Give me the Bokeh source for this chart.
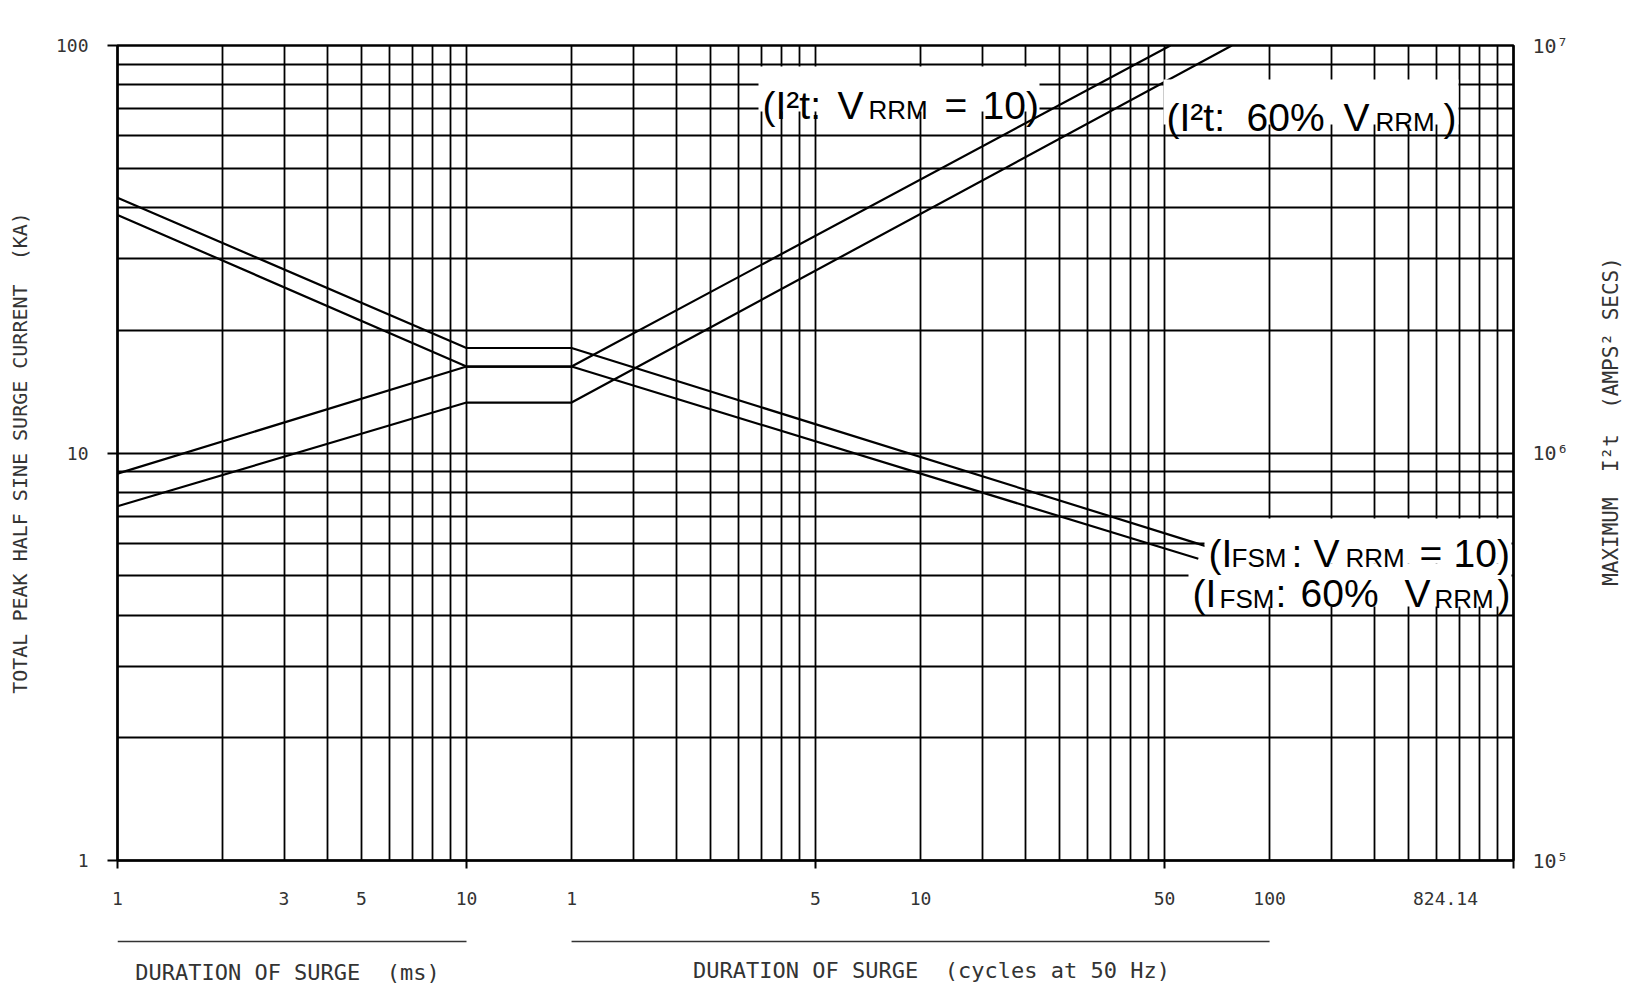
import math
from bokeh.plotting import figure
from bokeh.layouts import row, column
from bokeh.models import Range1d, LogAxis, LogScale, FixedTicker, Label, BoxAnnotation
from bokeh.embed import file_html
from bokeh.resources import INLINE

# ---------------- data ----------------
# duration of surge in ms (1 cycle at 50 Hz = 20 ms)
t_ifsm_10 = [1, 10, 20, 1320]
ifsm_10 = [42.3, 18.1, 18.1, 5.9]          # kA, V_RRM = 10
t_ifsm_60 = [1, 10, 20, 1250]
ifsm_60 = [38.4, 16.3, 16.3, 5.5]          # kA, 60% V_RRM
t_i2t_10 = [1, 10, 20, 1040]
i2t_10 = [8.9e5, 1.63e6, 1.63e6, 1.0e7]    # A^2 s, V_RRM = 10
t_i2t_60 = [1, 10, 20, 1560]
i2t_60 = [7.4e5, 1.33e6, 1.33e6, 1.0e7]    # A^2 s, 60% V_RRM

ms_ticks = [1, 3, 5, 10]
cycle_ticks = [1, 5, 10, 50, 100]
ms_per_cycle = 20
decade_ticks_ms = [1, 10, 100, 1000, 10000]
kA_ticks = [1, 10, 100]
i2t_ticks = [100000, 1000000, 10000000]
i2t_tick_labels = ["10\u2075", "10\u2076", "10\u2077"]
note_text = "824.14"

NB = "\u00a0"
left_title = "TOTAL PEAK HALF SINE SURGE CURRENT" + NB * 2 + "(KA)"
right_title = "MAXIMUM" + NB * 2 + "I\u00b2t" + NB * 2 + "(AMPS\u00b2 SECS)"
ms_title = "DURATION OF SURGE" + NB * 2 + "(ms)"
cyc_title = "DURATION OF SURGE" + NB * 2 + "(cycles at 50 Hz)"

# ---------------- layout ----------------
BL, BR, BT, BB = 117, 75, 45, 60
FW, FH = 1396, 815
MW, MH = BL + FW + BR, BT + FH + BB        # main figure
BOT_H = 65                                 # strip below with the duration titles
SIDE_W = 39                                # strip on the right with the I2t title
TOTAL_H = MH + BOT_H
X0, X1, Y0, Y1 = 1, 10000, 1, 100
DX = FW / math.log10(X1 / X0)
DY = FH / math.log10(Y1 / Y0)
MONO = "DejaVu Sans Mono"
SANS = "Liberation Sans"
GREY = "#333333"


def to_data(px, py):
    return X0 * 10 ** ((px - BL) / DX), Y0 * 10 ** ((BT + FH - py) / DY)


p = figure(width=MW, height=MH, x_axis_type="log", y_axis_type="log",
           x_range=Range1d(X0, X1), y_range=Range1d(Y0, Y1),
           output_backend="svg", toolbar_location=None,
           min_border_left=BL, min_border_right=BR, min_border_top=BT, min_border_bottom=BB)
p.background_fill_color = "white"
p.border_fill_color = "white"
p.outline_line_color = "black"
p.outline_line_width = 2.5

p.extra_y_ranges = {"i2t": Range1d(1e5, 1e7)}
p.extra_y_scales = {"i2t": LogScale()}

# grid (log paper)
grid_ms = [m * 10 ** e for e in range(4) for m in range(1, 10)] + [10000]
grid_kA = [m * 10 ** e for e in range(2) for m in range(1, 10)] + [100]
p.xgrid.ticker = FixedTicker(ticks=grid_ms)
p.ygrid.ticker = FixedTicker(ticks=grid_kA)
for g in (p.xgrid, p.ygrid):
    g.grid_line_color = "black"
    g.grid_line_width = 1.8
    g.grid_line_alpha = 1.0

# bottom axis
xa = p.xaxis[0]
note_ms = to_data(1445, 0)[0]
xt = ms_ticks + [c * ms_per_cycle for c in cycle_ticks] + [note_ms]
xl = [str(v) for v in ms_ticks] + [str(c) for c in cycle_ticks] + [note_text]
xa.ticker = FixedTicker(ticks=xt, minor_ticks=decade_ticks_ms)
xa.major_label_overrides = {t: l for t, l in zip(xt, xl)}
xa.major_tick_out = 0
xa.major_tick_in = 0
xa.minor_tick_out = 8
xa.minor_tick_in = 0
xa.minor_tick_line_color = "black"
xa.minor_tick_line_width = 2
xa.major_label_standoff = 23

# left axis
ya = p.yaxis[0]
ya.ticker = FixedTicker(ticks=kA_ticks)
ya.major_label_overrides = {t: str(t) for t in kA_ticks}
ya.major_tick_out = 10
ya.major_tick_in = 0
ya.minor_tick_out = 0
ya.minor_tick_in = 0
ya.major_tick_line_color = "black"
ya.major_tick_line_width = 2
ya.major_label_standoff = 19
ya.axis_label = left_title
ya.axis_label_standoff = 21
ya.axis_label_text_font = MONO
ya.axis_label_text_font_size = "20px"
ya.axis_label_text_font_style = "normal"
ya.axis_label_text_color = GREY

# right axis
ra = LogAxis(y_range_name="i2t", ticker=FixedTicker(ticks=i2t_ticks))
ra.major_label_overrides = {t: l for t, l in zip(i2t_ticks, i2t_tick_labels)}
ra.major_tick_out = 0
ra.major_tick_in = 0
ra.minor_tick_out = 0
ra.minor_tick_in = 0
ra.major_label_standoff = 19
p.add_layout(ra, "right")

for ax in (xa, ya, ra):
    ax.axis_line_color = "black"
    ax.axis_line_width = 2
    ax.major_label_text_font = MONO
    ax.major_label_text_font_size = "18px"
    ax.major_label_text_color = GREY
ra.major_label_text_font_size = "20px"

# curves
LW = 2.2
p.line(t_ifsm_10, ifsm_10, line_color="black", line_width=LW)
p.line(t_ifsm_60, ifsm_60, line_color="black", line_width=LW)
p.line(t_i2t_10, i2t_10, line_color="black", line_width=LW, y_range_name="i2t")
p.line(t_i2t_60, i2t_60, line_color="black", line_width=LW, y_range_name="i2t")


def lbl(fig, x, y, text, size, font=SANS, align="left", baseline="alphabetic",
        angle=0.0, color="black"):
    fig.add_layout(Label(x=x, y=y, text=text, text_font=font, text_font_size=f"{size}px",
                         text_align=align, text_baseline=baseline, angle=angle,
                         text_color=color))


# curve labels: white box + text pieces (subscripts as smaller, lowered pieces)
MAIN, SUB = 39, 26
curve_labels = [
    ((758, 66, 1039, 111), [("(I\u00b2t:", 762, 105, MAIN), ("V", 837, 105, MAIN),
                            ("RRM", 868, 109, SUB), ("=", 944, 105, MAIN), ("10)", 982, 105, MAIN)]),
    ((1163, 79, 1458, 124), [("(I\u00b2t:", 1166, 117, MAIN), ("60%", 1246, 117, MAIN),
                             ("V", 1343, 117, MAIN), ("RRM", 1375, 121, SUB), (")", 1443, 117, MAIN)]),
    ((1204, 518, 1511, 563), [("(I", 1208, 553, MAIN), ("FSM", 1231, 557, SUB), (":", 1291, 553, MAIN),
                              ("V", 1313, 553, MAIN), ("RRM", 1345, 557, SUB), ("=", 1419, 553, MAIN),
                              ("10)", 1453, 553, MAIN)]),
    ((1188, 563, 1511, 606), [("(I", 1192, 593, MAIN), ("FSM", 1219, 598, SUB), (":", 1275, 593, MAIN),
                              ("60%", 1300, 593, MAIN), ("V", 1404, 593, MAIN), ("RRM", 1434, 598, SUB),
                              (")", 1497, 593, MAIN)]),
]
for (bx0, by0, bx1, by1), pieces in curve_labels:
    l, t = to_data(bx0, by0)
    r, b = to_data(bx1, by1)
    p.add_layout(BoxAnnotation(left=l, right=r, bottom=b, top=t, fill_color="white",
                               fill_alpha=1.0, line_color=None))
for _, pieces in curve_labels:
    for text, px, py, size in pieces:
        x, y = to_data(px, py)
        lbl(p, x, y, text, size)

# ---------------- strip below: duration titles with rules ----------------
pb = figure(width=MW, height=BOT_H, x_axis_type="log", x_range=p.x_range,
            y_range=Range1d(TOTAL_H, MH), output_backend="svg", toolbar_location=None,
            x_axis_location=None, y_axis_location=None,
            min_border_left=BL, min_border_right=BR, min_border_top=0, min_border_bottom=0)
pb.grid.visible = False
pb.outline_line_color = None
pb.background_fill_color = "white"
pb.border_fill_color = "white"
RULE_Y = 941
pb.segment(x0=[ms_ticks[0], cycle_ticks[0] * ms_per_cycle], y0=[RULE_Y, RULE_Y],
           x1=[ms_ticks[-1], cycle_ticks[-1] * ms_per_cycle], y1=[RULE_Y, RULE_Y],
           line_color=GREY, line_width=1.5)
lbl(pb, to_data(287, 0)[0], 972, ms_title, 22, font=MONO, align="center", baseline="middle", color=GREY)
lbl(pb, to_data(931, 0)[0], 970, cyc_title, 22, font=MONO, align="center", baseline="middle", color=GREY)

# ---------------- strip on the right: I2t title ----------------
ps = figure(width=SIDE_W, height=TOTAL_H, x_range=Range1d(MW, MW + SIDE_W),
            y_range=Range1d(TOTAL_H, 0), output_backend="svg", toolbar_location=None,
            x_axis_location=None, y_axis_location=None,
            min_border_left=0, min_border_right=0, min_border_top=0, min_border_bottom=0)
ps.grid.visible = False
ps.outline_line_color = None
ps.background_fill_color = "white"
ps.border_fill_color = "white"
lbl(ps, 1610, 421, right_title, 21, font=MONO, align="center", baseline="middle",
    angle=math.pi / 2, color=GREY)

layout = row(column(p, pb), ps)
open("out.html", "w").write(file_html(layout, INLINE))
